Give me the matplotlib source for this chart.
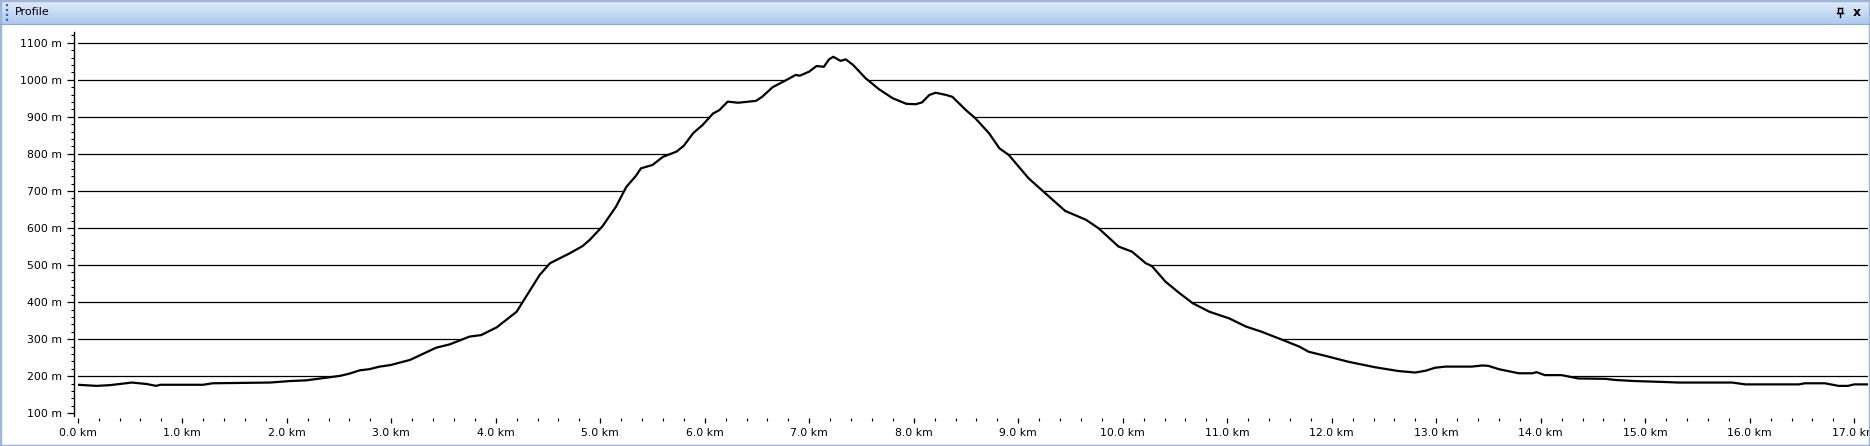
import numpy as np
import matplotlib.pyplot as plt
from matplotlib.ticker import MultipleLocator, FuncFormatter
from matplotlib.lines import Line2D
from matplotlib.patches import Rectangle

# Perfil de elevación (distancia en km, altura en m)
dist_km = [0.00, 0.18, 0.31, 0.52, 0.66, 0.75, 0.79, 1.20, 1.29, 1.84,
           2.03, 2.19, 2.38, 2.51, 2.60, 2.70, 2.79, 2.89, 2.99, 3.18,
           3.43, 3.56, 3.75, 3.86, 4.01, 4.20, 4.26, 4.36, 4.42, 4.52,
           4.71, 4.83, 4.90, 5.02, 5.15, 5.25, 5.34, 5.39, 5.50, 5.60,
           5.73, 5.80, 5.89, 5.98, 6.08, 6.14, 6.22, 6.32, 6.49, 6.55,
           6.65, 6.78, 6.87, 6.91, 7.00, 7.07, 7.14, 7.19, 7.23, 7.30,
           7.35, 7.42, 7.54, 7.67, 7.80, 7.93, 8.02, 8.08, 8.15, 8.21,
           8.31, 8.37, 8.50, 8.59, 8.72, 8.82, 8.91, 9.10, 9.23, 9.33,
           9.45, 9.65, 9.77, 9.96, 10.09, 10.22, 10.28, 10.41, 10.54, 10.67,
           10.83, 11.02, 11.18, 11.33, 11.53, 11.69, 11.78, 11.94, 12.16, 12.42,
           12.64, 12.80, 12.90, 12.99, 13.09, 13.34, 13.44, 13.50, 13.60, 13.79,
           13.92, 13.96, 14.04, 14.20, 14.36, 14.62, 14.71, 14.90, 15.13, 15.32,
           15.83, 15.96, 16.47, 16.53, 16.72, 16.85, 16.94, 17.00, 17.13]
elev_m = [177, 174, 176, 183, 179, 174, 177, 177, 181, 183,
          187, 189, 196, 201, 207, 216, 219, 226, 230, 244,
          277, 286, 307, 311, 332, 374, 401, 446, 473, 505,
          532, 551, 568, 604, 657, 711, 740, 761, 770, 792,
          806, 822, 856, 878, 909, 918, 941, 938, 943, 954,
          980, 999, 1013, 1011, 1022, 1037, 1035, 1055, 1062, 1051,
          1055, 1040, 1004, 974, 950, 935, 934, 939, 959, 965,
          959, 954, 918, 896, 856, 815, 797, 734, 701, 676,
          646, 622, 599, 550, 536, 505, 497, 455, 425, 397,
          374, 356, 334, 320, 298, 280, 266, 255, 239, 224,
          214, 210, 215, 223, 226, 226, 229, 228, 219, 208,
          208, 211, 203, 203, 194, 193, 190, 187, 185, 183,
          183, 178, 178, 181, 181, 174, 174, 178, 178]

W, H = 1870, 446
fig = plt.figure(figsize=(W / 100, H / 100), dpi=100)
fig.patch.set_facecolor('white')

# Barra de título con degradado
bar_h = 24
ax_bar = fig.add_axes([0, (H - bar_h) / H, 1, bar_h / H])
grad = np.linspace(0, 1, 50).reshape(-1, 1)
top_col = np.array([0.89, 0.93, 0.98])
bot_col = np.array([0.68, 0.79, 0.94])
img = top_col + (bot_col - top_col) * grad[:, :, None] * np.ones((1, 2, 1))
ax_bar.imshow(img, aspect='auto', extent=(0, 1, 0, 1))
ax_bar.set_axis_off()
fig.text(15 / W, 1 - 12 / H, 'Profile', fontsize=8, va='center', ha='left', color='black')

# Agarre punteado
fig.add_artist(Line2D([7 / W, 7 / W], [1 - 4 / H, 1 - 22 / H], color='#3c64a8',
                      linewidth=1.6, linestyle=(0, (1, 1.2))))

# Icono de chincheta
px = 1840
fig.add_artist(Line2D([(px - 3) / W, (px + 3) / W], [1 - 13 / H, 1 - 13 / H], color='black', lw=1))
fig.add_artist(Line2D([(px - 2) / W, (px - 2) / W], [1 - 8 / H, 1 - 13 / H], color='black', lw=1))
fig.add_artist(Line2D([(px + 2) / W, (px + 2) / W], [1 - 8 / H, 1 - 13 / H], color='black', lw=1))
fig.add_artist(Line2D([(px - 2) / W, (px + 2) / W], [1 - 8 / H, 1 - 8 / H], color='black', lw=1))
fig.add_artist(Line2D([px / W, px / W], [1 - 13 / H, 1 - 17 / H], color='black', lw=1))
fig.text(1857 / W, 1 - 12 / H, 'x', fontsize=9, fontweight='bold', va='center', ha='center')

# Área del gráfico
x_left, x_right = 77.7, 1868
y_top, y_bot = 31.7, 416
km_px = 104.5
m_px = 0.3706
ax = fig.add_axes([x_left / W, (H - y_bot) / H, (x_right - x_left) / W, (y_bot - y_top) / H])
ax.set_xlim(0, (x_right - x_left) / km_px)
ax.set_ylim(100 - (y_bot - 413.3) / m_px, 1100 + (42.7 - y_top) / m_px)

ax.set_axisbelow(True)
ax.grid(axis='y', color='black', linewidth=0.9)
ax.fill_between(dist_km, elev_m, 0, color='white', zorder=2)
ax.plot(dist_km, elev_m, color='black', linewidth=1.6, zorder=3)

ax.yaxis.set_major_locator(MultipleLocator(100))
ax.yaxis.set_minor_locator(MultipleLocator(20))
ax.xaxis.set_major_locator(MultipleLocator(1))
ax.xaxis.set_minor_locator(MultipleLocator(0.2))
ax.yaxis.set_major_formatter(FuncFormatter(lambda v, p: f'{v:.0f} m'))
ax.xaxis.set_major_formatter(FuncFormatter(lambda v, p: f'{v:.1f} km'))

for s in ['top', 'right', 'bottom']:
    ax.spines[s].set_visible(False)
ax.spines['left'].set_position(('outward', 3))
ax.spines['left'].set_linewidth(1.0)
ax.spines['bottom'].set_position(('outward', 1.5))

ax.tick_params(axis='y', which='major', length=4.8, width=0.9, pad=3.5, labelsize=7.8, colors='black')
ax.tick_params(axis='y', which='minor', length=2, width=0.8)
ax.tick_params(axis='x', which='major', length=3.8, width=0.9, pad=3.5, labelsize=7.8)
ax.tick_params(axis='x', which='minor', length=2, width=0.8)
ax.set_facecolor('white')

# Borde de la ventana
fig.add_artist(Rectangle((0, 0), 1, 1, transform=fig.transFigure, fill=False,
                         edgecolor='#9fb6d6', linewidth=2.5))
fig.add_artist(Line2D([0, 1], [(H - bar_h) / H, (H - bar_h) / H], color='#8fa9d0', lw=0.8))

fig.savefig('out.png', dpi=100)
